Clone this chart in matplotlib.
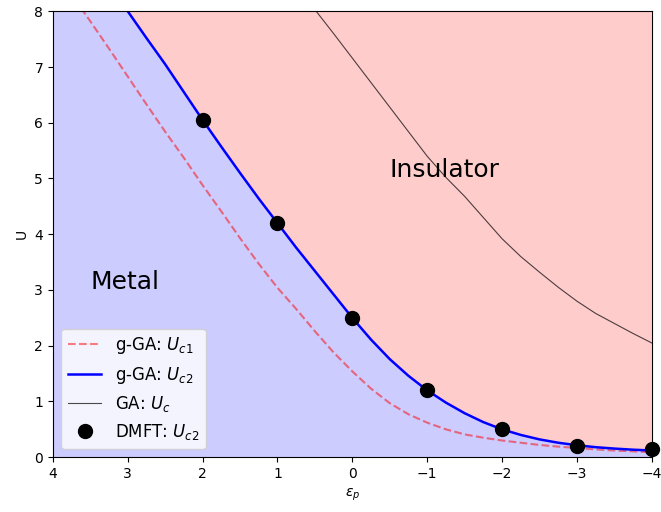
import numpy as np
import matplotlib
matplotlib.use('Agg')
import matplotlib.pyplot as plt

# === Data ===
eps = [4, 3.75, 3.5, 3.25, 3, 2.75, 2.5, 2.25, 2, 1.75, 1.5, 1.25, 1, 0.75, 0.5, 0.25,
       0, -0.25, -0.5, -0.75, -1, -1.25, -1.5, -1.75, -2, -2.25, -2.5, -2.75, -3,
       -3.25, -3.5, -3.75, -4]
uc2 = [10.0, 9.5, 9.0, 8.5, 8.0, 7.52, 7.05, 6.55, 6.05, 5.57, 5.1, 4.64, 4.2, 3.76, 3.34, 2.92,
       2.5, 2.11, 1.76, 1.46, 1.2, 0.98, 0.79, 0.63, 0.5, 0.4, 0.32, 0.26, 0.215,
       0.18, 0.155, 0.135, 0.12]
uc1 = [8.8, 8.3, 7.82, 7.33, 6.83, 6.33, 5.84, 5.37, 4.88, 4.41, 3.93, 3.47, 3.04, 2.66, 2.26, 1.88,
       1.54, 1.23, 0.97, 0.77, 0.62, 0.5, 0.41, 0.35, 0.3, 0.26, 0.22, 0.19, 0.165,
       0.14, 0.12, 0.105, 0.09]

eps_ga = [0.5, 0.25, 0, -0.25, -0.5, -0.75, -1, -1.25, -1.5, -1.75, -2, -2.25, -2.5,
          -2.75, -3, -3.25, -3.5, -3.75, -4]
uc_ga = [8.03, 7.6, 7.16, 6.72, 6.28, 5.84, 5.4, 5.02, 4.68, 4.3, 3.92, 3.6, 3.32,
         3.05, 2.8, 2.58, 2.4, 2.22, 2.05]

eps_dmft = [2, 1, 0, -1, -2, -3, -4]
uc2_dmft = [6.05, 4.2, 2.5, 1.2, 0.5, 0.2, 0.15]

# === Plot ===
fig, ax = plt.subplots(figsize=(6.61, 5.12), dpi=100)
fig.subplots_adjust(left=0.08, right=0.986, top=0.978, bottom=0.107)

# metal / insulator regions
ax.fill_between(eps, 0, uc2, color='b', alpha=0.2, lw=0)
ax.fill_between(eps, uc2, 10.5, color='r', alpha=0.2, lw=0)

ax.plot(eps, uc1, '--', color='r', alpha=0.5, lw=1.5, label='g-GA: $U_{c1}$')
ax.plot(eps, uc2, '-', color='b', lw=1.8, label='g-GA: $U_{c2}$')
ax.plot(eps_ga, uc_ga, '-', color='k', lw=0.8, alpha=0.7, label='GA: $U_{c}$')
ax.plot(eps_dmft, uc2_dmft, 'o', color='k', ms=10, clip_on=False, label='DMFT: $U_{c2}$')

ax.text(3.5, 3.15, 'Metal', fontsize=18, va='center')
ax.text(-0.5, 5.15, 'Insulator', fontsize=18, va='center')

ax.set_xlim(4, -4)
ax.set_ylim(0, 8)
ax.set_xlabel(r'$\epsilon_p$')
ax.set_ylabel('U')
ax.legend(loc='lower left', fontsize=12)

fig.savefig('out.png', dpi=100)
